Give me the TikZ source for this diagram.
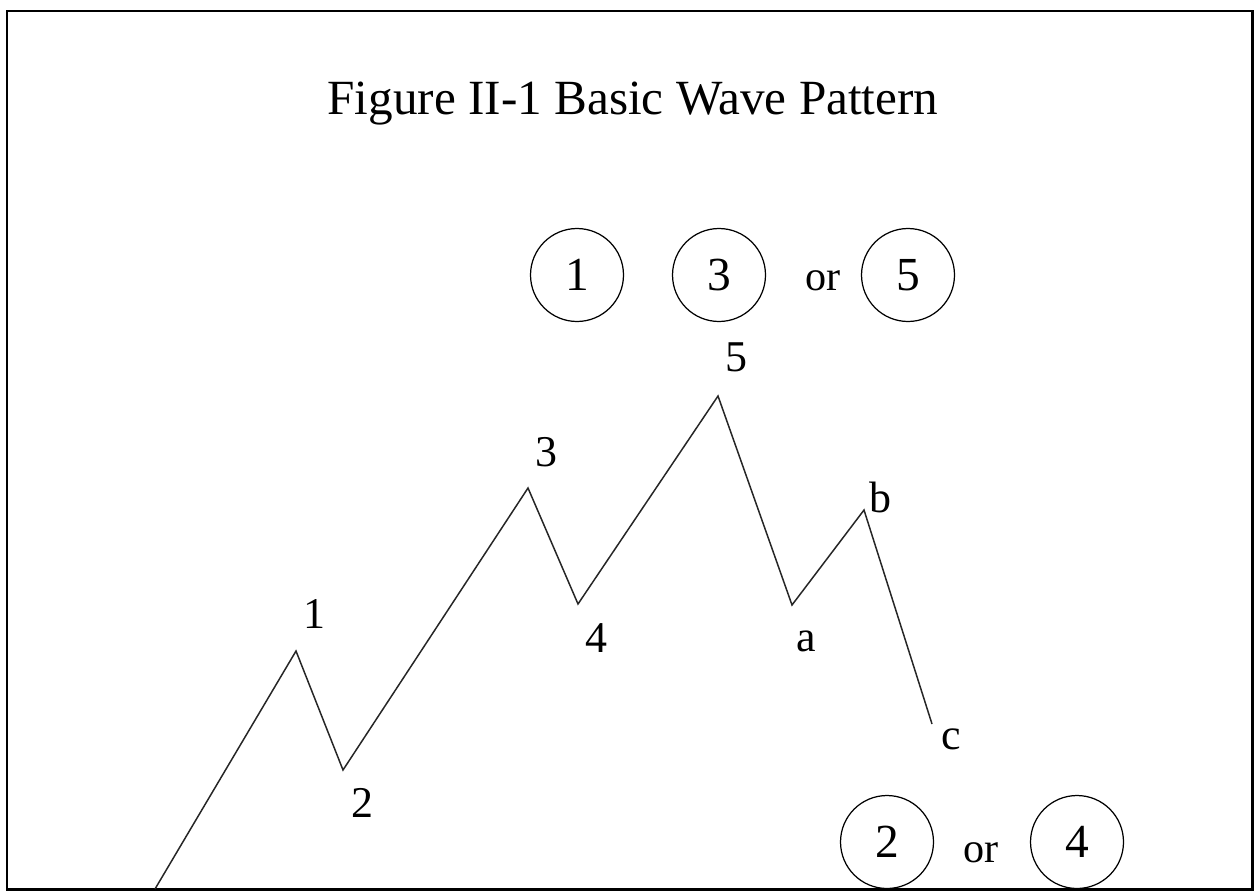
\documentclass[tikz,border=0pt]{standalone}
\usepackage{fontspec}
\setmainfont{Liberation Serif}
\usetikzlibrary{positioning}

\begin{document}
\begin{tikzpicture}[
    x=0.02cm, y=-0.02cm,
    wave/.style={line width=0.85pt, black!85},
    lbl/.style={font=\fontsize{25}{27}\selectfont, inner sep=0pt},
    ring/.style={draw, circle, line width=0.7pt, minimum size=1.86cm, inner sep=0pt,
                 font=\fontsize{27}{29}\selectfont},
    ortext/.style={font=\fontsize{24}{26}\selectfont, inner sep=0pt}
  ]
    \useasboundingbox (0,0) rectangle (1256,892);
    \draw[line width=1.7pt] (7,11) rectangle (1252,889);
    \node[font=\fontsize{28}{30}\selectfont] (title) at (633,104) {Figure II-1 Basic Wave Pattern};

    % wave points
    \coordinate (w0) at (155,889);
    \coordinate (p1) at (296,651);
    \coordinate (p2) at (343,770);
    \coordinate (p3) at (528,488);
    \coordinate (p4) at (578,604);
    \coordinate (p5) at (718,396);
    \coordinate (pa) at (792,605);
    \coordinate (pb) at (864,510);
    \coordinate (pc) at (932,724);
    \draw[wave] (w0) -- (p1) -- (p2) -- (p3) -- (p4) -- (p5) -- (pa) -- (pb) -- (pc);

    \node[lbl] (l1) at (314,614) {1};
    \node[lbl] (l2) at (362,803) {2};
    \node[lbl] (l3) at (546,452) {3};
    \node[lbl] (l4) at (596,638) {4};
    \node[lbl] (l5) at (736,357) {5};
    \node[lbl] (la) at (806,641) {a};
    \node[lbl] (lb) at (880,497) {b};
    \node[lbl] (lc) at (951,739) {c};

    % circled waves
    \node[ring] (c1) at (577,275) {1};
    \node[ring] (c3) at (719,275) {3};
    \node[ortext] (or1) at (823,281) {or};
    \node[ring] (c5) at (908,275) {5};
    \node[ring] (c2) at (887,842) {2};
    \node[ortext] (or2) at (981,853) {or};
    \node[ring] (c4) at (1077,842) {4};
  \end{tikzpicture}
\end{document}
